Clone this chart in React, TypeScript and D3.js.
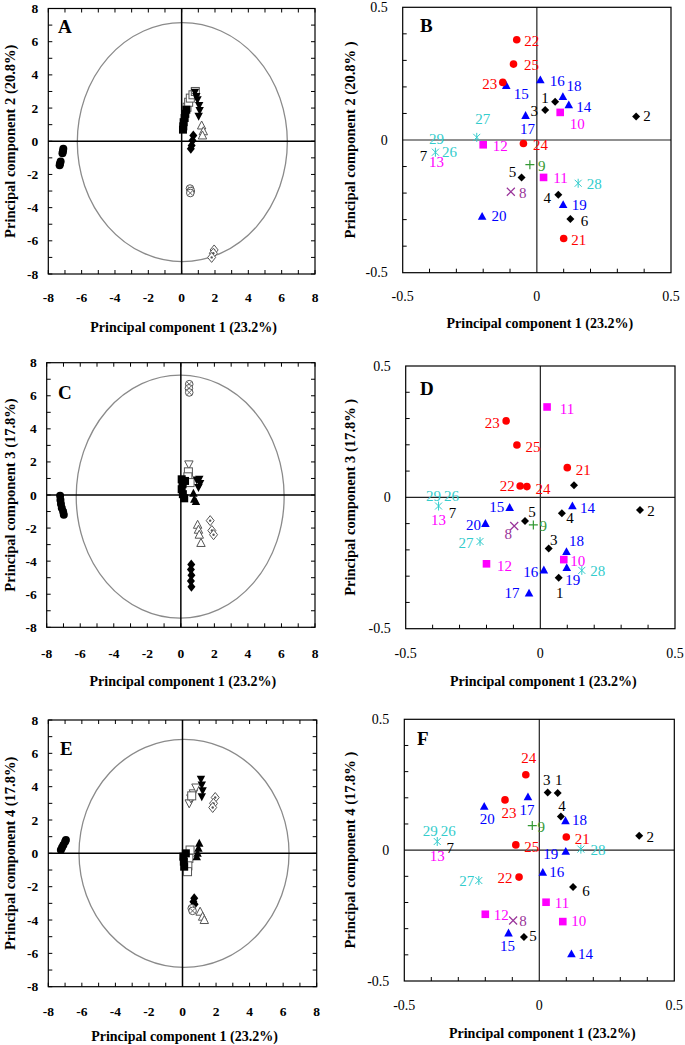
import React from "react";
import * as d3 from "d3";

const FONT = "'Liberation Serif','Times New Roman',Times,serif";

// ---------- Loadings (variables 1-29) ----------
const varLabels = ["1","2","3","4","5","6","7","8","9","10","11","12","13","14","15","16","17","18","19","20","21","22","23","24","25","26","27","28","29"];
const varGroup = ["diamond","diamond","diamond","diamond","diamond","diamond","diamond","cross","plus","square","square","square","square","triangle","triangle","triangle","triangle","triangle","triangle","triangle","circle","circle","circle","circle","circle","asterisk","asterisk","asterisk","asterisk"];
const varPC1 = [0.068,0.37,0.031,0.08,-0.057,0.125,-0.378,-0.097,-0.026,0.087,0.025,-0.2,-0.378,0.119,-0.114,0.013,-0.042,0.097,0.098,-0.204,0.1,-0.075,-0.127,-0.05,-0.087,-0.378,-0.224,0.154,-0.378];
const varPC2 = [0.144,0.089,0.113,-0.206,-0.141,-0.298,-0.046,-0.195,-0.093,0.104,-0.141,-0.018,-0.046,0.132,0.205,0.226,0.092,0.163,-0.244,-0.288,-0.371,0.378,0.217,-0.013,0.286,-0.046,0.01,-0.163,-0.046];
const varPC3 = [-0.306,-0.048,-0.195,-0.061,-0.09,0.046,-0.033,-0.109,-0.105,-0.237,0.344,-0.253,-0.033,-0.033,-0.039,-0.277,-0.365,-0.207,-0.268,-0.1,0.113,0.043,0.291,0.041,0.199,-0.033,-0.168,-0.278,-0.033];
const varPC4 = [0.218,0.055,0.22,0.129,-0.332,-0.141,0.033,-0.269,0.094,-0.273,-0.199,-0.245,0.033,-0.397,-0.317,-0.085,0.203,0.112,-0.005,0.167,0.05,-0.103,0.192,0.288,0.02,0.033,-0.116,0.004,0.033];
// variables whose marker is covered by the asterisk of variable 26
const hiddenVars = ["7", "13", "29"];

const groupColor: Record<string, string> = {
  diamond: "#000000", cross: "#993399", plus: "#339933", square: "#ff00ff",
  triangle: "#0000ff", circle: "#ff0000", asterisk: "#33cccc",
};

// label offsets (px) per panel, index = variable - 1
const labelOffB: ([number, number] | null)[] = [[-10,-4],[11,0],[-11,1],[-11,3],[-9,-5],[14,2],[-12,4],[12,1],[12,1],[17,12],[17,1],[17,1],[1,10],[15,2],[15,8],[17,1],[2,13],[11,-11],[16,0],[17,0],[15,2],[15,1],[-13,2],[17,2],[18,1],[14,0],[6,-18],[16,1],[1,-13]];
const labelOffD: ([number, number] | null)[] = [[1,15],[11,1],[5,-9],[8,5],[7,-9],null,[14,7],[-6,8],[10,1],[14,1],[20,2],[18,2],[0,14],[15,2],[-13,-1],[-13,2],[-17,0],[10,-11],[6,12],[-12,1],[16,2],[-13,0],[-14,2],[16,2],[16,2],[13,-10],[-14,2],[16,1],[-5,-10]];
const labelOffF: ([number, number] | null)[] = [[1,-13],[11,1],[-1,-13],[1,-10],[9,-1],[13,4],[13,6],[10,0],[9,1],[16,-1],[16,1],[16,1],[0,14],[14,0],[-1,13],[14,0],[-1,13],[14,-1],[-15,3],[3,13],[16,2],[-14,1],[4,13],[3,-17],[16,2],[11,-11],[-12,0],[17,1],[-7,-11]];

// ---------- Scores (samples) ----------
type S = [string, number, number];
const scoresPC1PC2: S[] = [
  ["circleFilled",-7.1,-0.45],["circleFilled",-7.12,-0.6],["circleFilled",-7.15,-0.72],["circleFilled",-7.26,-1.22],["circleFilled",-7.3,-1.35],["circleFilled",-7.32,-1.45],
  ["squareOpen",0.32,2.05],["squareOpen",0.42,2.35],["squareOpen",0.52,2.6],["squareOpen",0.68,2.8],["squareOpen",0.82,3.0],
  ["squareFilled",0.08,0.7],["squareFilled",0.1,0.9],["squareFilled",0.12,1.15],["squareFilled",0.18,1.4],["squareFilled",0.22,1.65],["squareFilled",0.28,1.9],
  ["triDownFilled",0.8,2.95],["triDownFilled",0.88,2.7],["triDownFilled",0.95,2.5],["triDownFilled",1.05,2.15],["triDownFilled",1.08,1.85],["triDownFilled",1.02,1.5],
  ["triUpOpen",1.2,0.95],["triUpOpen",1.3,0.6],["triUpOpen",1.25,0.35],
  ["diamondFilled",0.7,0.35],["diamondFilled",0.65,0.05],["diamondFilled",0.6,-0.25],["diamondFilled",0.55,-0.45],
  ["circleCross",0.5,-2.85],["circleCross",0.55,-3.0],["circleCross",0.52,-3.12],
  ["diamondOpen",1.95,-6.55],["diamondOpen",1.9,-6.75],["diamondOpen",1.8,-7.0],
];
const scoresPC1PC3: S[] = [
  ["circleFilled",-7.2,-0.05],["circleFilled",-7.18,-0.3],["circleFilled",-7.15,-0.55],["circleFilled",-7.1,-0.78],["circleFilled",-7.02,-1.0],["circleFilled",-6.98,-1.2],
  ["circleCross",0.5,6.7],["circleCross",0.48,6.45],["circleCross",0.5,6.2],
  ["triDownOpen",0.48,1.85],
  ["squareOpen",0.45,1.4],["squareOpen",0.42,1.1],["squareOpen",0.55,0.75],
  ["squareFilled",0.05,0.95],["squareFilled",0.1,0.65],["squareFilled",0.05,0.35],["squareFilled",0.12,0.05],["squareFilled",0.2,-0.2],["squareFilled",0.25,0.85],
  ["triDownFilled",1.1,0.95],["triDownFilled",1.15,0.7],["triDownFilled",1.05,0.45],["triDownFilled",0.95,0.9],
  ["triUpFilled",0.8,-0.25],["triUpFilled",0.9,-0.4],["triUpFilled",0.75,0.1],
  ["triUpOpen",1.0,-1.8],["triUpOpen",1.05,-2.1],["triUpOpen",1.1,-2.4],["triUpOpen",1.2,-2.9],
  ["diamondOpen",1.75,-1.55],["diamondOpen",1.85,-2.15],["diamondOpen",1.95,-2.4],
  ["diamondFilled",0.62,-4.2],["diamondFilled",0.6,-4.5],["diamondFilled",0.63,-4.85],["diamondFilled",0.6,-5.2],["diamondFilled",0.63,-5.55],
];
const scoresPC1PC4: S[] = [
  ["circleFilled",-7.25,0.2],["circleFilled",-7.18,0.35],["circleFilled",-7.1,0.5],["circleFilled",-7.0,0.7],["circleFilled",-6.95,0.8],
  ["triDownOpen",0.4,3.0],["triDownOpen",0.5,3.3],["triDownOpen",0.65,3.6],["triDownOpen",0.8,3.95],
  ["squareOpen",0.55,3.45],
  ["triDownFilled",1.1,4.45],["triDownFilled",1.15,4.1],["triDownFilled",1.2,3.75],["triDownFilled",1.15,3.4],
  ["diamondOpen",1.95,3.35],["diamondOpen",1.85,3.0],["diamondOpen",1.8,2.75],
  ["squareOpen",0.45,0.2],["squareOpen",0.38,-0.3],["squareOpen",0.32,-0.75],["squareOpen",0.3,-1.1],
  ["squareFilled",0.05,-0.2],["squareFilled",0.08,-0.5],["squareFilled",0.1,-0.8],["squareFilled",0.2,0.0],
  ["triUpFilled",1.0,0.6],["triUpFilled",0.95,0.3],["triUpFilled",0.9,0.0],["triUpFilled",0.85,-0.2],
  ["diamondFilled",0.7,-2.7],["diamondFilled",0.65,-2.9],["diamondFilled",0.72,-3.05],
  ["circleCross",0.55,-3.3],["circleCross",0.6,-3.45],
  ["triUpOpen",1.05,-3.5],["triUpOpen",1.2,-3.8],["triUpOpen",1.3,-4.0],
];
// confidence ellipses: [cx, cy, rx, ry]
const ellipseA = [0.04, -0.05, 6.3, 7.2];
const ellipseC = [-0.04, -0.1, 6.2, 7.35];
const ellipseE = [0.09, 0, 6.26, 6.84];

const scoreTicks = d3.range(-8, 9, 1);
const scoreTickLabels = d3.range(-8, 9, 2);
const loadTicks = [-0.4, -0.3, -0.2, -0.1, 0.1, 0.2, 0.3, 0.4];
const loadTickLabels = ["-0.5", "0", "0.5"];

function ScoreMarker({ t, x, y }: { t: string; x: number; y: number }) {
  const h = 4;
  const g = "#555";
  switch (t) {
    case "circleFilled":
      return <circle cx={x} cy={y} r={4} fill="#000" />;
    case "squareFilled":
      return <rect x={x - h} y={y - h} width={2 * h} height={2 * h} fill="#000" />;
    case "squareOpen":
      return <rect x={x - h} y={y - h} width={2 * h} height={2 * h} fill="#fff" stroke={g} strokeWidth={1} />;
    case "triUpFilled":
      return <path d={`M${x},${y - 4.5}L${x + 4.2},${y + 3.5}L${x - 4.2},${y + 3.5}Z`} fill="#000" />;
    case "triUpOpen":
      return <path d={`M${x},${y - 4.5}L${x + 4.2},${y + 3.5}L${x - 4.2},${y + 3.5}Z`} fill="#fff" stroke={g} strokeWidth={1} />;
    case "triDownFilled":
      return <path d={`M${x},${y + 4.5}L${x + 4.2},${y - 3.5}L${x - 4.2},${y - 3.5}Z`} fill="#000" />;
    case "triDownOpen":
      return <path d={`M${x},${y + 4.5}L${x + 4.2},${y - 3.5}L${x - 4.2},${y - 3.5}Z`} fill="#fff" stroke={g} strokeWidth={1} />;
    case "diamondFilled":
      return <path d={`M${x},${y - 5}L${x + 4},${y}L${x},${y + 5}L${x - 4},${y}Z`} fill="#000" />;
    case "diamondOpen":
      return (
        <g>
          <path d={`M${x},${y - 5}L${x + 4},${y}L${x},${y + 5}L${x - 4},${y}Z`} fill="#fff" stroke={g} strokeWidth={1} />
          <circle cx={x} cy={y} r={1.2} fill={g} />
        </g>
      );
    case "circleCross":
      return (
        <g>
          <circle cx={x} cy={y} r={3.8} fill="#fff" stroke={g} strokeWidth={1} />
          <path d={`M${x - 2.4},${y - 2.4}L${x + 2.4},${y + 2.4}M${x - 2.4},${y + 2.4}L${x + 2.4},${y - 2.4}`} stroke={g} strokeWidth={0.9} />
        </g>
      );
  }
  return null;
}

function LoadMarker({ g, x, y }: { g: string; x: number; y: number }) {
  const c = groupColor[g];
  switch (g) {
    case "diamond":
      return <path d={`M${x},${y - 4}L${x + 4},${y}L${x},${y + 4}L${x - 4},${y}Z`} fill={c} />;
    case "circle":
      return <circle cx={x} cy={y} r={3.8} fill={c} />;
    case "square":
      return <rect x={x - 3.8} y={y - 3.8} width={7.6} height={7.6} fill={c} />;
    case "triangle":
      return <path d={`M${x},${y - 4.5}L${x + 4.3},${y + 3.3}L${x - 4.3},${y + 3.3}Z`} fill={c} />;
    case "cross":
      return <path d={`M${x - 4},${y - 4}L${x + 4},${y + 4}M${x - 4},${y + 4}L${x + 4},${y - 4}`} stroke={c} strokeWidth={1.2} />;
    case "plus":
      return <path d={`M${x - 4.5},${y}L${x + 4.5},${y}M${x},${y - 4.5}L${x},${y + 4.5}`} stroke={c} strokeWidth={1.2} />;
    case "asterisk":
      return <path d={`M${x - 3.5},${y - 3.5}L${x + 3.5},${y + 3.5}M${x - 3.5},${y + 3.5}L${x + 3.5},${y - 3.5}M${x},${y - 4.5}L${x},${y + 4.5}`} stroke={c} strokeWidth={1} />;
  }
  return null;
}

function ScorePanel({ box, letter, letterPos, yTitle, titleX, tickY, titleY, ellipse, pts }: any) {
  const x = d3.scaleLinear().domain([-8, 8]).range([box.l, box.r]);
  const y = d3.scaleLinear().domain([-8, 8]).range([box.b, box.t]);
  const tl = 4;
  return (
    <g>
      <ellipse cx={x(ellipse[0])} cy={y(ellipse[1])} rx={x(ellipse[2]) - x(0)} ry={y(0) - y(ellipse[3])} fill="none" stroke="#8a8a8a" strokeWidth={1.3} />
      <line x1={x(0)} x2={x(0)} y1={box.t} y2={box.b} stroke="#000" strokeWidth={1.5} />
      <line x1={box.l} x2={box.r} y1={y(0)} y2={y(0)} stroke="#000" strokeWidth={1.5} />
      {pts.map((p: S, i: number) => (
        <ScoreMarker key={i} t={p[0]} x={x(p[1])} y={y(p[2])} />
      ))}
      <rect x={box.l} y={box.t} width={box.r - box.l} height={box.b - box.t} fill="none" stroke="#000" strokeWidth={1.2} />
      {scoreTicks.map((v) => (
        <g key={v} stroke="#000" strokeWidth={1}>
          <line x1={x(v)} x2={x(v)} y1={box.b} y2={box.b - tl} />
          <line x1={x(v)} x2={x(v)} y1={box.t} y2={box.t + tl} />
          <line x1={box.l} x2={box.l + tl} y1={y(v)} y2={y(v)} />
          <line x1={box.r} x2={box.r - tl} y1={y(v)} y2={y(v)} />
        </g>
      ))}
      {scoreTickLabels.map((v) => (
        <g key={"l" + v} fontFamily={FONT} fontWeight="bold" fontSize={13.5} fill="#000">
          <text x={x(v)} y={tickY} textAnchor="middle" dominantBaseline="central">{String(v)}</text>
          <text x={box.l - 10} y={y(v)} textAnchor="end" dominantBaseline="central">{String(v)}</text>
        </g>
      ))}
      <text x={letterPos[0]} y={letterPos[1]} fontFamily={FONT} fontWeight="bold" fontSize={19}>{letter}</text>
      <text x={(box.l + box.r) / 2 + 2} y={titleY} textAnchor="middle" dominantBaseline="central" fontFamily={FONT} fontWeight="bold" fontSize={14}>Principal component 1 (23.2%)</text>
      <text transform={`translate(${titleX},${(box.t + box.b) / 2}) rotate(-90)`} textAnchor="middle" dominantBaseline="central" fontFamily={FONT} fontWeight="bold" fontSize={14.5}>{yTitle}</text>
    </g>
  );
}

function LoadPanel({ box, letter, letterPos, yTitle, titleX, tickY, titleY, ys, offs }: any) {
  const x = d3.scaleLinear().domain([-0.5, 0.5]).range([box.l, box.r]);
  const y = d3.scaleLinear().domain([-0.5, 0.5]).range([box.b, box.t]);
  const tl = 4;
  const order = d3.range(varLabels.length).sort((a, b) => (varGroup[a] === "asterisk" ? 1 : 0) - (varGroup[b] === "asterisk" ? 1 : 0));
  return (
    <g>
      <line x1={x(0)} x2={x(0)} y1={box.t} y2={box.b} stroke="#222" strokeWidth={1.2} />
      <line x1={box.l} x2={box.r} y1={y(0)} y2={y(0)} stroke="#222" strokeWidth={1.2} />
      <rect x={box.l} y={box.t} width={box.r - box.l} height={box.b - box.t} fill="none" stroke="#000" strokeWidth={1.2} />
      {loadTicks.map((v) => (
        <g key={v} stroke="#000" strokeWidth={1}>
          <line x1={x(v)} x2={x(v)} y1={box.b} y2={box.b - tl} />
          <line x1={box.l} x2={box.l + tl} y1={y(v)} y2={y(v)} />
        </g>
      ))}
      {loadTickLabels.map((s) => (
        <g key={s} fontFamily={FONT} fontSize={14} fill="#000">
          <text x={x(+s)} y={tickY} textAnchor="middle" dominantBaseline="central">{s}</text>
          <text x={box.l - 15} y={y(+s)} textAnchor="end" dominantBaseline="central">{s}</text>
        </g>
      ))}
      {order.map((i) =>
        hiddenVars.includes(varLabels[i]) ? null : (
          <LoadMarker key={"m" + i} g={varGroup[i]} x={x(varPC1[i])} y={y(ys[i])} />
        )
      )}
      {varLabels.map((lab, i) => {
        const o = offs[i];
        if (!o) return null;
        return (
          <text key={"t" + i} x={x(varPC1[i]) + o[0]} y={y(ys[i]) + o[1]} textAnchor="middle" dominantBaseline="central" fontFamily={FONT} fontSize={15} fill={groupColor[varGroup[i]]}>{lab}</text>
        );
      })}
      <text x={letterPos[0]} y={letterPos[1]} fontFamily={FONT} fontWeight="bold" fontSize={19}>{letter}</text>
      <text x={(box.l + box.r) / 2 + 3} y={titleY} textAnchor="middle" dominantBaseline="central" fontFamily={FONT} fontWeight="bold" fontSize={14}>Principal component 1 (23.2%)</text>
      <text transform={`translate(${titleX},${(box.t + box.b) / 2}) rotate(-90)`} textAnchor="middle" dominantBaseline="central" fontFamily={FONT} fontWeight="bold" fontSize={14.5}>{yTitle}</text>
    </g>
  );
}

export default function App() {
  return (
    <svg width={685} height={1045} style={{ position: "absolute", left: 0, top: 0, background: "#fff" }}>
      <rect width={685} height={1045} fill="#fff" />
      <ScorePanel box={{ l: 48.3, t: 8.5, r: 315, b: 274 }} letter="A" letterPos={[58, 33]} yTitle="Principal component 2 (20.8%)" titleX={10} tickY={297} titleY={327} ellipse={ellipseA} pts={scoresPC1PC2} />
      <LoadPanel box={{ l: 402.7, t: 7.3, r: 671, b: 272.7 }} letter="B" letterPos={[420, 32]} yTitle="Principal component 2 (20.8% )" titleX={349.5} tickY={296} titleY={323} ys={varPC2} offs={labelOffB} />
      <ScorePanel box={{ l: 46.7, t: 362.7, r: 315, b: 627.3 }} letter="C" letterPos={[58, 399]} yTitle="Principal component 3 (17.8%)" titleX={10} tickY={653} titleY={681.7} ellipse={ellipseC} pts={scoresPC1PC3} />
      <LoadPanel box={{ l: 405.7, t: 366, r: 675, b: 628.7 }} letter="D" letterPos={[420, 395]} yTitle="Principal component 3 (17.8% )" titleX={349.5} tickY={653} titleY={681.7} ys={varPC3} offs={labelOffD} />
      <ScorePanel box={{ l: 48.3, t: 720, r: 316.7, b: 986.7 }} letter="E" letterPos={[60, 755]} yTitle="Principal component 4 (17.8%)" titleX={10} tickY={1011.7} titleY={1036.7} ellipse={ellipseE} pts={scoresPC1PC4} />
      <LoadPanel box={{ l: 404.3, t: 719.3, r: 674.3, b: 981 }} letter="F" letterPos={[417, 745]} yTitle="Principal component 4 (17.8% )" titleX={349.5} tickY={1005} titleY={1033} ys={varPC4} offs={labelOffF} />
    </svg>
  );
}
